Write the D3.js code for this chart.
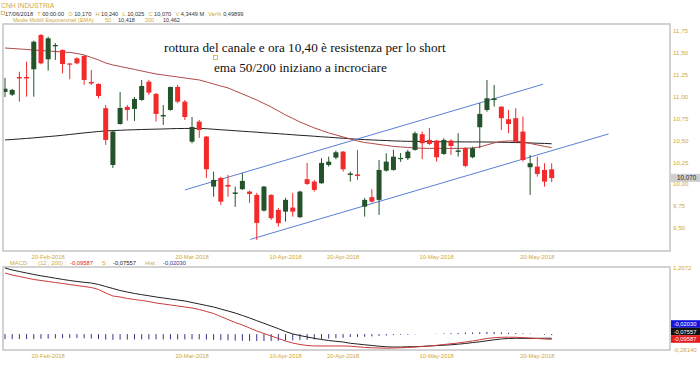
<!DOCTYPE html>
<html><head><meta charset="utf-8">
<script src="https://cdn.jsdelivr.net/npm/d3@7"></script>
<style>body{margin:0;background:#fff;}svg{display:block;}</style>
</head><body>
<svg id="c" width="700" height="365"></svg>
<script>
// ---- data ----
const opens  = [11.054,11.023,11.225,11.225,11.313,11.704,11.427,11.575,11.533,11.379,11.438,11.465,11.168,11.145,10.868,10.220,10.688,10.883,10.860,10.962,11.171,11.031,10.774,10.848,11.111,10.943,10.486,10.715,10.544,9.973,10.072,9.992,9.889,9.943,9.916,9.878,9.699,9.878,9.707,9.687,9.733,9.623,10.057,10.030,10.011,10.220,10.304,10.372,10.106,10.112,9.744,9.852,9.821,10.155,10.163,10.289,10.297,10.392,10.571,10.506,10.498,10.346,10.498,10.369,10.411,10.308,10.651,10.848,10.962,10.886,10.742,10.754,10.601,10.194,10.201,10.163,10.170];
const highs  = [11.214,11.088,11.285,11.400,11.640,11.715,11.685,11.613,11.540,11.385,11.450,11.470,11.305,11.153,10.905,10.620,11.054,10.905,10.997,11.191,11.191,11.042,10.905,11.114,11.134,10.962,10.768,10.734,10.550,10.144,10.087,10.106,9.973,10.126,9.927,9.901,9.980,9.885,9.729,9.844,9.901,9.927,10.243,10.049,10.297,10.315,10.384,10.380,10.144,10.392,9.844,9.943,10.277,10.354,10.392,10.357,10.392,10.601,10.601,10.643,10.506,10.525,10.514,10.582,10.423,10.429,10.928,11.191,11.134,10.890,10.848,10.868,10.772,10.335,10.315,10.240,10.240];
const lows   = [10.997,11.008,10.943,11.000,11.000,11.370,11.297,11.419,11.267,11.199,11.370,11.134,11.134,10.982,10.449,10.186,10.680,10.726,10.723,10.954,11.019,10.715,10.677,10.840,10.925,10.734,10.468,10.529,10.072,9.858,9.764,9.858,9.741,9.935,9.787,9.364,9.687,9.592,9.516,9.573,9.630,9.615,9.992,9.916,10.005,10.201,10.286,10.144,10.030,10.049,9.630,9.790,9.650,10.144,10.155,10.255,10.277,10.384,10.286,10.449,10.258,10.335,10.335,10.315,10.194,10.297,10.411,10.829,10.886,10.620,10.582,10.468,10.258,9.878,10.087,9.973,10.025];
const closes = [11.091,11.077,11.208,11.208,11.628,11.381,11.667,11.590,11.373,11.368,11.381,11.191,11.151,11.008,10.506,10.601,10.871,10.848,10.974,11.122,11.046,10.803,10.791,11.111,10.943,10.768,10.654,10.620,10.171,10.049,9.801,9.973,9.906,10.038,9.889,9.558,9.973,9.612,9.555,9.821,9.687,9.916,10.003,9.935,10.243,10.258,10.365,10.171,10.123,10.095,9.821,9.801,10.163,10.258,10.315,10.300,10.372,10.582,10.468,10.460,10.308,10.506,10.437,10.386,10.209,10.411,10.803,10.982,10.980,10.754,10.688,10.486,10.277,10.240,10.118,10.030,10.070];
const ema50  = [11.556,11.550,11.545,11.539,11.533,11.527,11.522,11.516,11.510,11.505,11.493,11.476,11.448,11.419,11.385,11.362,11.345,11.328,11.311,11.293,11.276,11.259,11.248,11.236,11.225,11.213,11.202,11.191,11.168,11.145,11.122,11.100,11.065,11.031,10.997,10.962,10.922,10.882,10.837,10.791,10.751,10.711,10.677,10.643,10.614,10.586,10.563,10.540,10.517,10.494,10.477,10.466,10.454,10.443,10.432,10.426,10.420,10.414,10.411,10.409,10.409,10.409,10.409,10.409,10.411,10.414,10.426,10.449,10.472,10.489,10.494,10.494,10.483,10.466,10.449,10.432,10.418];
const ema200 = [10.506,10.511,10.517,10.523,10.529,10.537,10.544,10.551,10.559,10.568,10.577,10.586,10.594,10.602,10.609,10.613,10.616,10.620,10.622,10.625,10.627,10.629,10.631,10.634,10.636,10.637,10.637,10.637,10.634,10.628,10.622,10.617,10.611,10.605,10.600,10.594,10.588,10.582,10.577,10.571,10.565,10.559,10.554,10.548,10.542,10.537,10.531,10.525,10.519,10.514,10.509,10.506,10.502,10.499,10.495,10.492,10.490,10.489,10.488,10.486,10.485,10.485,10.484,10.484,10.483,10.483,10.483,10.482,10.481,10.479,10.478,10.476,10.474,10.472,10.468,10.466,10.462];
const macd   = [1.116,1.079,1.052,1.025,0.997,0.979,0.961,0.942,0.924,0.906,0.888,0.869,0.851,0.815,0.751,0.696,0.678,0.650,0.632,0.614,0.595,0.568,0.550,0.532,0.513,0.495,0.477,0.449,0.413,0.376,0.321,0.267,0.212,0.166,0.111,0.057,0.011,-0.035,-0.080,-0.126,-0.163,-0.190,-0.208,-0.217,-0.217,-0.217,-0.217,-0.217,-0.221,-0.232,-0.243,-0.250,-0.254,-0.258,-0.254,-0.250,-0.245,-0.236,-0.226,-0.217,-0.205,-0.190,-0.177,-0.163,-0.144,-0.126,-0.104,-0.080,-0.066,-0.058,-0.057,-0.058,-0.064,-0.072,-0.080,-0.089,-0.09587];
const signal = [1.207,1.171,1.143,1.116,1.089,1.065,1.043,1.021,0.999,0.979,0.961,0.946,0.933,0.906,0.869,0.833,0.796,0.769,0.742,0.720,0.700,0.678,0.659,0.641,0.623,0.605,0.577,0.550,0.522,0.495,0.458,0.422,0.385,0.340,0.294,0.245,0.197,0.148,0.099,0.047,0.002,-0.026,-0.053,-0.077,-0.099,-0.117,-0.132,-0.144,-0.168,-0.181,-0.195,-0.208,-0.221,-0.232,-0.236,-0.236,-0.232,-0.230,-0.225,-0.217,-0.210,-0.203,-0.195,-0.184,-0.172,-0.155,-0.141,-0.122,-0.104,-0.089,-0.080,-0.077,-0.077,-0.079,-0.077,-0.076,-0.07557];
const hist   = [-0.091,-0.092,-0.091,-0.091,-0.092,-0.086,-0.082,-0.079,-0.075,-0.073,-0.073,-0.077,-0.082,-0.091,-0.100,-0.105,-0.100,-0.100,-0.098,-0.096,-0.095,-0.097,-0.097,-0.097,-0.098,-0.098,-0.095,-0.096,-0.100,-0.105,-0.110,-0.115,-0.120,-0.122,-0.125,-0.127,-0.126,-0.125,-0.123,-0.120,-0.116,-0.112,-0.105,-0.098,-0.090,-0.082,-0.075,-0.068,-0.053,-0.051,-0.048,-0.042,-0.033,-0.026,-0.018,-0.014,-0.013,-0.006,-0.001,0.000,0.005,0.013,0.018,0.021,0.028,0.029,0.037,0.042,0.038,0.031,0.023,0.019,0.013,0.007,-0.003,-0.013,-0.0203];
const dateTickIndex  = [6,26,39,47,60,74];
const dateTickLabels = ["20-Feb-2018","20-Mar-2018","10-Apr-2018","20-Apr-2018","10-May-2018","20-May-2018"];
const priceTicks = [11.75,11.50,11.25,11.00,10.75,10.50,10.25,10.00,9.75,9.50];
const macdTicks  = [1.2072,-0.28140];
const macdTickLabels = ["1,2072","-0,28140"];
const channelUpper = [[25.0,9.935],[74.8,11.142]];
const channelLower = [[34.1,9.370],[83.9,10.574]];
const lastClose = 10.070;
const headerItems = [["17/06/2018",0],["T",1],["00:00:00",0],["O",1],["10,170",0],["H",1],["10,240",0],["L",1],["10,025",0],["C",1],["10,070",0],["V",1],["4,3449 M",0],["Var%",1],["0,49899",0]];

// ---- drawing ----
const svg = d3.select("#c");
const GOLD = "#cfa93a", GREEN = "#24532b", RED = "#f22a2a";
const FONT = "'Liberation Sans', Arial, sans-serif";
const comma = s => s.replace(".", ",");

const x = d3.scaleLinear().domain([0, 76]).range([5, 551.7]);
const y = d3.scaleLinear().domain([9.5, 11.75]).range([228, 31]);
const ym = d3.scaleLinear().domain([-0.2814, 1.2072]).range([349.5, 268]);

// frames
svg.append("rect").attr("x",3).attr("y",24).attr("width",667).attr("height",227)
  .attr("fill","none").attr("stroke","#c4c4c4").attr("stroke-width",1.5);
svg.append("rect").attr("x",3).attr("y",267).attr("width",667).attr("height",83)
  .attr("fill","none").attr("stroke","#c4c4c4").attr("stroke-width",1.5);

// header
svg.append("text").attr("x",1).attr("y",8).attr("font-family",FONT).attr("font-size",6.8).attr("fill",GOLD).text("CNH INDUSTRIA");
svg.append("rect").attr("x",1.2).attr("y",11.3).attr("width",3.2).attr("height",3.2).attr("fill","none").attr("stroke",GOLD).attr("stroke-width",0.7);
const ht = svg.append("text").attr("x",5).attr("y",15.5).attr("font-family",FONT).attr("font-size",5.6);
headerItems.forEach((d,k) => {
  ht.append("tspan").attr("dx", k===0?0:(d[1]===1?4.2:1.6)).attr("fill", d[1]===1?GOLD:"#333").text(d[0]);
});
const hdr2 = [[13,"Medie Mobili Esponenziali (EMA)",GOLD],[105,"50 :",GOLD],[118,"10,418","#333"],[145,"200 :",GOLD],[163,"10,462","#333"]];
hdr2.forEach(d => svg.append("text").attr("x",d[0]).attr("y",21.8).attr("font-family",FONT).attr("font-size",5.5).attr("fill",d[2]).text(d[1]));

// clip
svg.append("clipPath").attr("id","mainclip").append("rect").attr("x",3.8).attr("y",24.8).attr("width",665.5).attr("height",225.5);
const main = svg.append("g").attr("clip-path","url(#mainclip)");

// EMA lines
const line = d3.line().x((d,i)=>x(i)).y(d=>y(d));
main.append("path").attr("d",line(ema200)).attr("fill","none").attr("stroke","#222").attr("stroke-width",1);
main.append("path").attr("d",line(ema50)).attr("fill","none").attr("stroke","#b04848").attr("stroke-width",1);

// channels
[channelUpper, channelLower].forEach(c => {
  main.append("line").attr("x1",x(c[0][0])).attr("y1",y(c[0][1])).attr("x2",x(c[1][0])).attr("y2",y(c[1][1]))
    .attr("stroke","#5a7fd4").attr("stroke-width",1);
});

// candles
const candles = opens.map((o,i)=>({i, o, h:highs[i], l:lows[i], c:closes[i]}));
const cg = main.selectAll("g.cd").data(candles).enter().append("g");
cg.append("line").attr("x1",d=>x(d.i)).attr("x2",d=>x(d.i)).attr("y1",d=>y(d.h)).attr("y2",d=>y(d.l))
  .attr("stroke",d=>d.c>=d.o?GREEN:RED).attr("stroke-width",1);
cg.append("rect").attr("x",d=>x(d.i)-2.5).attr("width",5)
  .attr("y",d=>y(Math.max(d.o,d.c))).attr("height",d=>Math.max(1.2, Math.abs(y(d.o)-y(d.c))))
  .attr("fill",d=>d.c>=d.o?GREEN:RED);

// right axis price labels
svg.selectAll("text.pt").data(priceTicks).enter().append("text")
  .attr("x",673).attr("y",d=>y(d)+2.2).attr("font-family",FONT).attr("font-size",6.2).attr("fill",GOLD)
  .text(d=>comma(d3.format(".2f")(d)));
svg.append("rect").attr("x",671).attr("y",y(lastClose)-4.3).attr("width",29).attr("height",8.2).attr("fill","#cfcfcf");
svg.append("text").attr("x",677).attr("y",y(lastClose)+2.3).attr("font-family",FONT).attr("font-size",6.3).attr("fill","#222").text(comma(lastClose.toFixed(3)));

// annotations
svg.append("text").attr("x",164).attr("y",51.5).attr("font-family","'Liberation Serif','Times New Roman',serif").attr("font-size",13.2).attr("fill","#111")
  .text("rottura del canale e ora 10,40 è resistenza per lo short");
svg.append("rect").attr("x",213.5).attr("y",55.5).attr("width",4).attr("height",4).attr("fill","none").attr("stroke",GOLD).attr("stroke-width",0.8);
svg.append("text").attr("x",214).attr("y",71.5).attr("font-family","'Liberation Serif','Times New Roman',serif").attr("font-size",13.2).attr("fill","#111")
  .text("ema 50/200 iniziano a incrociare");

// date labels
[258.5, 357.5].forEach(yy => {
  svg.selectAll(null).data(dateTickIndex).enter().append("text")
    .attr("x",d=>x(d)).attr("y",yy).attr("text-anchor","middle").attr("font-family",FONT).attr("font-size",5.8).attr("fill",GOLD)
    .text((d,k)=>dateTickLabels[k]);
});

// MACD header
const mh = [[10,"MACD",GOLD],[38,"(12 , 200) :",GOLD],[70,"-0,09587","#d22"],[102,"S :",GOLD],[113,"-0,07557","#222"],[145,"Hist :",GOLD],[163,"-0,02030","#33338a"]];
mh.forEach(d => svg.append("text").attr("x",d[0]).attr("y",265.3).attr("font-family",FONT).attr("font-size",5.8).attr("fill",d[2]).text(d[1]));

// MACD panel
const mg = svg.append("g");
mg.selectAll("line.h").data(hist).enter().append("line")
  .attr("x1",(d,i)=>x(i)).attr("x2",(d,i)=>x(i)).attr("y1",ym(0)).attr("y2",d=>ym(d))
  .attr("stroke","#34348c").attr("stroke-width",1);
const ml = d3.line().x((d,i)=>x(i)).y(d=>ym(d));
mg.append("path").attr("d",ml(signal)).attr("fill","none").attr("stroke","#222").attr("stroke-width",1);
mg.append("path").attr("d",ml(macd)).attr("fill","none").attr("stroke","#c83c3c").attr("stroke-width",1);

svg.selectAll("text.mt").data(macdTicks).enter().append("text")
  .attr("x",673).attr("y",d=>ym(d)+2.2).attr("font-family",FONT).attr("font-size",6).attr("fill",GOLD)
  .text((d,k)=>macdTickLabels[k]);
const boxes = [[324,"#1414e0","-0,02030"],[331.5,"#111","-0,07557"],[339,"#e51a1a","-0,09587"]];
boxes.forEach(b => {
  svg.append("rect").attr("x",671).attr("y",b[0]-3.8).attr("width",29).attr("height",7.6).attr("fill",b[1]);
  svg.append("text").attr("x",673.5).attr("y",b[0]+2.1).attr("font-family",FONT).attr("font-size",5.8).attr("fill","#fff").text(b[2]);
});
</script>
</body></html>
